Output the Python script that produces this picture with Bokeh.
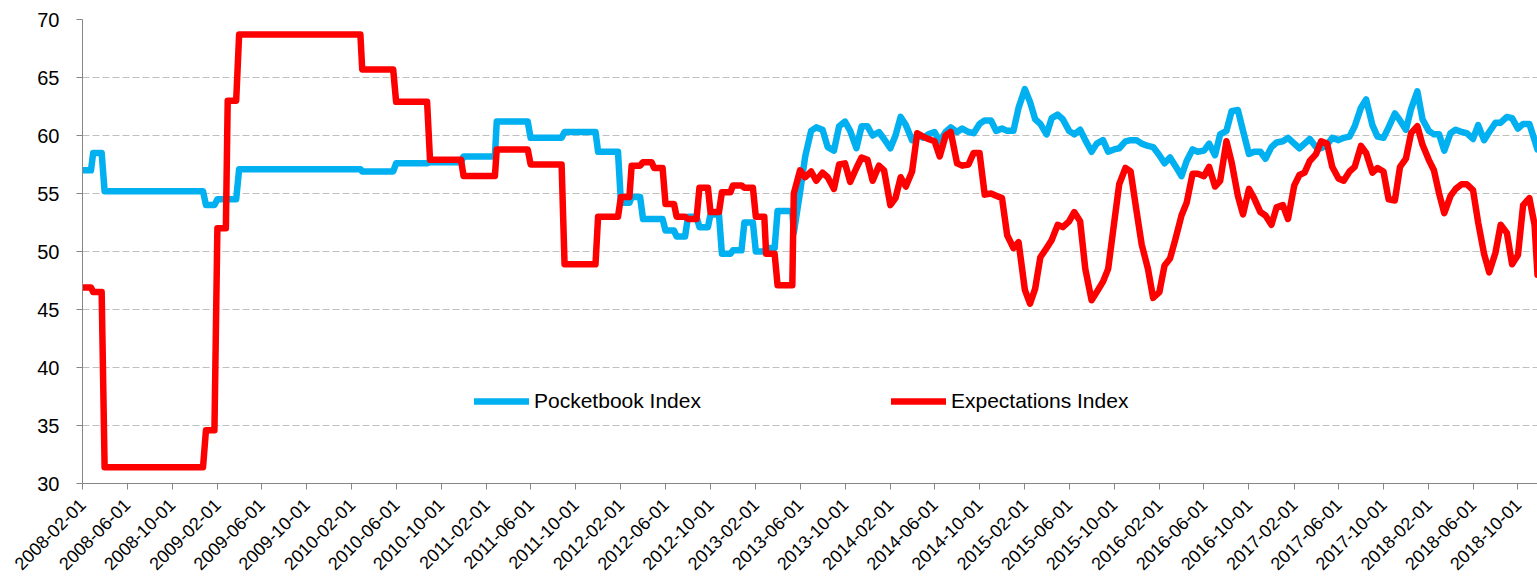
import pandas as pd
from math import pi
from bokeh.plotting import figure
from bokeh.models import (FixedTicker, Range1d, Legend, LegendItem,
                          CustomJSTickFormatter, ColumnDataSource)
from bokeh.embed import file_html
from bokeh.resources import INLINE

# ---------------- data ----------------
tick_labels = ["2008-02-01", "2008-06-01", "2008-10-01", "2009-02-01", "2009-06-01",
               "2009-10-01", "2010-02-01", "2010-06-01", "2010-10-01", "2011-02-01",
               "2011-06-01", "2011-10-01", "2012-02-01", "2012-06-01", "2012-10-01",
               "2013-02-01", "2013-06-01", "2013-10-01", "2014-02-01", "2014-06-01",
               "2014-10-01", "2015-02-01", "2015-06-01", "2015-10-01", "2016-02-01",
               "2016-06-01", "2016-10-01", "2017-02-01", "2017-06-01", "2017-10-01",
               "2018-02-01", "2018-06-01", "2018-10-01"]
y_ticks = [30, 35, 40, 45, 50, 55, 60, 65, 70]

# monthly (step-like) period: 2008-02 .. 2013-04
monthly_start = "2008-02-01"
monthly_end = "2013-04-01"
pocket_monthly = [57.0, 58.5] + [55.2] * 9 + [54.0, 54.5, 54.5] + [57.1] * 11 + \
    [56.9] * 3 + [57.6] * 3 + [57.7] * 3 + [58.2] * 3 + [61.2] * 3 + [59.8] * 3 + \
    [60.3] * 3 + [58.6] * 2 + \
    [54.2, 54.7, 52.8, 52.8, 51.8, 51.3, 53.0, 52.1, 53.2, 49.8, 50.1, 52.5, 50.0, 50.3, 53.5]
expect_monthly = [46.9, 46.5] + [31.4] * 9 + [34.6, 52.0, 63.0] + [68.7] * 11 + \
    [65.7] * 3 + [62.9] * 3 + [57.9] * 3 + [56.5] * 3 + [58.8] * 3 + [57.5] * 3 + \
    [48.9] * 3 + [53.0] * 2 + \
    [54.7, 57.4, 57.7, 57.2, 54.1, 53.0, 52.8, 55.5, 53.4, 55.1, 55.7, 55.5, 53.0, 49.8, 47.1]

# semi-monthly period: 2013-05 .. 2018-11
late_head_dates = ["2013-05-01", "2013-05-11"]
late_grid_start = "2013-05-15"
late_grid_end = "2018-11-15"
late_tail_dates = ["2018-11-23"]

pocket_late = [53.5, 53.5,
    51.6, 55.1, 58.2, 60.4, 60.7, 60.5, 59.0, 58.7, 60.8, 61.2,
    60.4, 58.9, 60.8, 60.8, 60.0, 60.3, 59.7, 58.9, 60.0, 61.6,
    60.9, 59.6, 60.0, 59.8, 60.1, 60.3, 59.5, 60.3, 60.7, 60.3,
    60.6, 60.3, 60.2, 61.0, 61.3, 61.3, 60.4, 60.6, 60.4, 60.4,
    62.4, 64.0, 62.9, 61.4, 61.0, 60.1, 61.5, 61.8, 61.4, 60.4,
    60.1, 60.5, 59.6, 58.6, 59.3, 59.6, 58.6, 58.8, 58.9, 59.5,
    59.6, 59.6, 59.3, 59.1, 59.0, 58.3, 57.6, 58.1, 57.4, 56.5,
    57.8, 58.8, 58.6, 58.7, 59.3, 58.3, 60.1, 60.4, 62.1, 62.2,
    60.4, 58.4, 58.6, 58.6, 58.0, 59.0, 59.4, 59.5, 59.8, 59.3,
    58.9, 59.3, 59.7, 59.0, 58.9, 59.2, 59.8, 59.6, 59.8, 59.9,
    60.8, 62.4, 63.1, 60.9, 59.9, 59.8, 60.7, 61.9, 61.3, 60.5,
    62.3, 63.8, 61.4, 60.4, 60.1, 60.1, 58.7, 60.2, 60.5, 60.3,
    60.2, 59.7, 60.9, 59.6, 60.3, 61.1, 61.1, 61.6, 61.5, 60.6,
    61.0, 61.0, 59.6,
    58.8]
expect_late = [47.1, 47.1,
    55.0, 57.0, 56.4, 56.9, 56.1, 56.8, 56.4, 55.4, 57.5, 57.6,
    56.0, 57.2, 58.1, 57.9, 56.1, 57.4, 57.0, 54.0, 54.6, 56.4,
    55.6, 56.9, 60.2, 59.9, 59.7, 59.5, 58.2, 60.0, 60.3, 57.6,
    57.4, 57.5, 58.5, 58.5, 54.9, 55.0, 54.8, 54.6, 51.4, 50.3,
    50.8, 46.7, 45.5, 46.8, 49.5, 50.3, 51.0, 52.3, 52.1, 52.6,
    53.4, 52.6, 48.5, 45.8, 46.5, 47.4, 48.5, 52.4, 55.8, 57.2,
    56.9, 53.5, 50.6, 48.5, 46.0, 46.5, 48.8, 49.4, 51.0, 53.1,
    54.2, 56.7, 56.7, 56.5, 57.3, 55.6, 56.1, 59.5, 57.7, 54.8,
    53.2, 55.4, 54.6, 53.4, 53.1, 52.3, 53.8, 54.0, 52.8, 55.7,
    56.6, 56.8, 57.8, 58.4, 59.5, 59.3, 57.3, 56.3, 56.1, 56.9,
    57.3, 59.1, 58.5, 56.8, 57.2, 56.9, 54.5, 54.4, 57.3, 58.0,
    60.2, 60.8, 59.2, 57.9, 57.0, 55.0, 53.3, 54.8, 55.4, 55.8,
    55.8, 55.3, 52.5, 49.8, 48.2, 49.9, 52.3, 51.6, 48.9, 49.7,
    54.0, 54.6, 52.3,
    48.0]

x_start = "2008-02-01"
x_end = "2018-11-23"

# ---------------- build the series ----------------
months = pd.date_range(monthly_start, monthly_end, freq="MS")
hold = pd.Timedelta(days=23)
step_x, pocket_step, expect_step = [], [], []
for d, a, b in zip(months, pocket_monthly, expect_monthly):
    step_x += [d, d + hold]
    pocket_step += [a, a]
    expect_step += [b, b]

late_x = list(pd.to_datetime(late_head_dates)) + \
    list(pd.date_range(late_grid_start, late_grid_end, freq="SMS")) + \
    list(pd.to_datetime(late_tail_dates))
n = min(len(late_x), len(pocket_late), len(expect_late))

src = ColumnDataSource(dict(
    x=step_x + late_x[:n],
    pocket=pocket_step + pocket_late[:n],
    expect=expect_step + expect_late[:n],
))

FONT = "Liberation Sans"

p = figure(width=1537, height=578, x_axis_type="datetime",
           x_range=Range1d(pd.Timestamp(x_start), pd.Timestamp(x_end)),
           y_range=Range1d(30, 70),
           output_backend="svg", toolbar_location=None,
           min_border_left=82, min_border_right=0, min_border_top=19,
           min_border_bottom=91)
p.outline_line_color = None
p.background_fill_color = "white"
p.border_fill_color = "white"

r1 = p.line("x", "pocket", source=src, line_color="#00B0F0", line_width=6.5,
            line_join="round", line_cap="round")
r2 = p.line("x", "expect", source=src, line_color="#FF0000", line_width=6.5,
            line_join="round", line_cap="round")

# grid
p.xgrid.visible = False
p.ygrid.grid_line_color = "#BFBFBF"
p.ygrid.grid_line_dash = "7 3"
p.ygrid.grid_line_width = 1

# y axis
p.yaxis.ticker = FixedTicker(ticks=y_ticks)
p.yaxis.axis_line_color = "#868686"
p.yaxis.major_tick_line_color = "#868686"
p.yaxis.major_tick_out = 6
p.yaxis.major_tick_in = 0
p.yaxis.minor_tick_line_color = None
p.yaxis.major_label_standoff = 17
p.yaxis.major_label_text_font = FONT
p.yaxis.major_label_text_font_size = "20px"
p.yaxis.major_label_text_color = "#000000"

# x axis
tick_ms = [pd.Timestamp(t).value / 1e6 for t in tick_labels]
p.xaxis.ticker = FixedTicker(ticks=tick_ms)
p.xaxis.formatter = CustomJSTickFormatter(
    code="return new Date(tick).toISOString().slice(0, 10);")
p.xaxis.axis_line_color = "#868686"
p.xaxis.major_tick_line_color = "#868686"
p.xaxis.major_tick_out = 6
p.xaxis.major_tick_in = 0
p.xaxis.minor_tick_line_color = None
p.xaxis.major_label_orientation = pi / 4
p.xaxis.major_label_standoff = 12
p.xaxis.major_label_text_font = FONT
p.xaxis.major_label_text_font_size = "18px"
p.xaxis.major_label_text_color = "#000000"

legend = Legend(items=[LegendItem(label="Pocketbook Index", renderers=[r1]),
                       LegendItem(label="Expectations Index", renderers=[r2])],
                orientation="horizontal", location=(392, 70),
                glyph_width=55, glyph_height=20, label_standoff=5, spacing=190,
                padding=0, margin=0, border_line_alpha=0,
                background_fill_alpha=0,
                label_text_font=FONT, label_text_font_size="21px",
                label_text_color="#000000")
p.add_layout(legend)

open("out.html", "w").write(file_html(p, INLINE))
